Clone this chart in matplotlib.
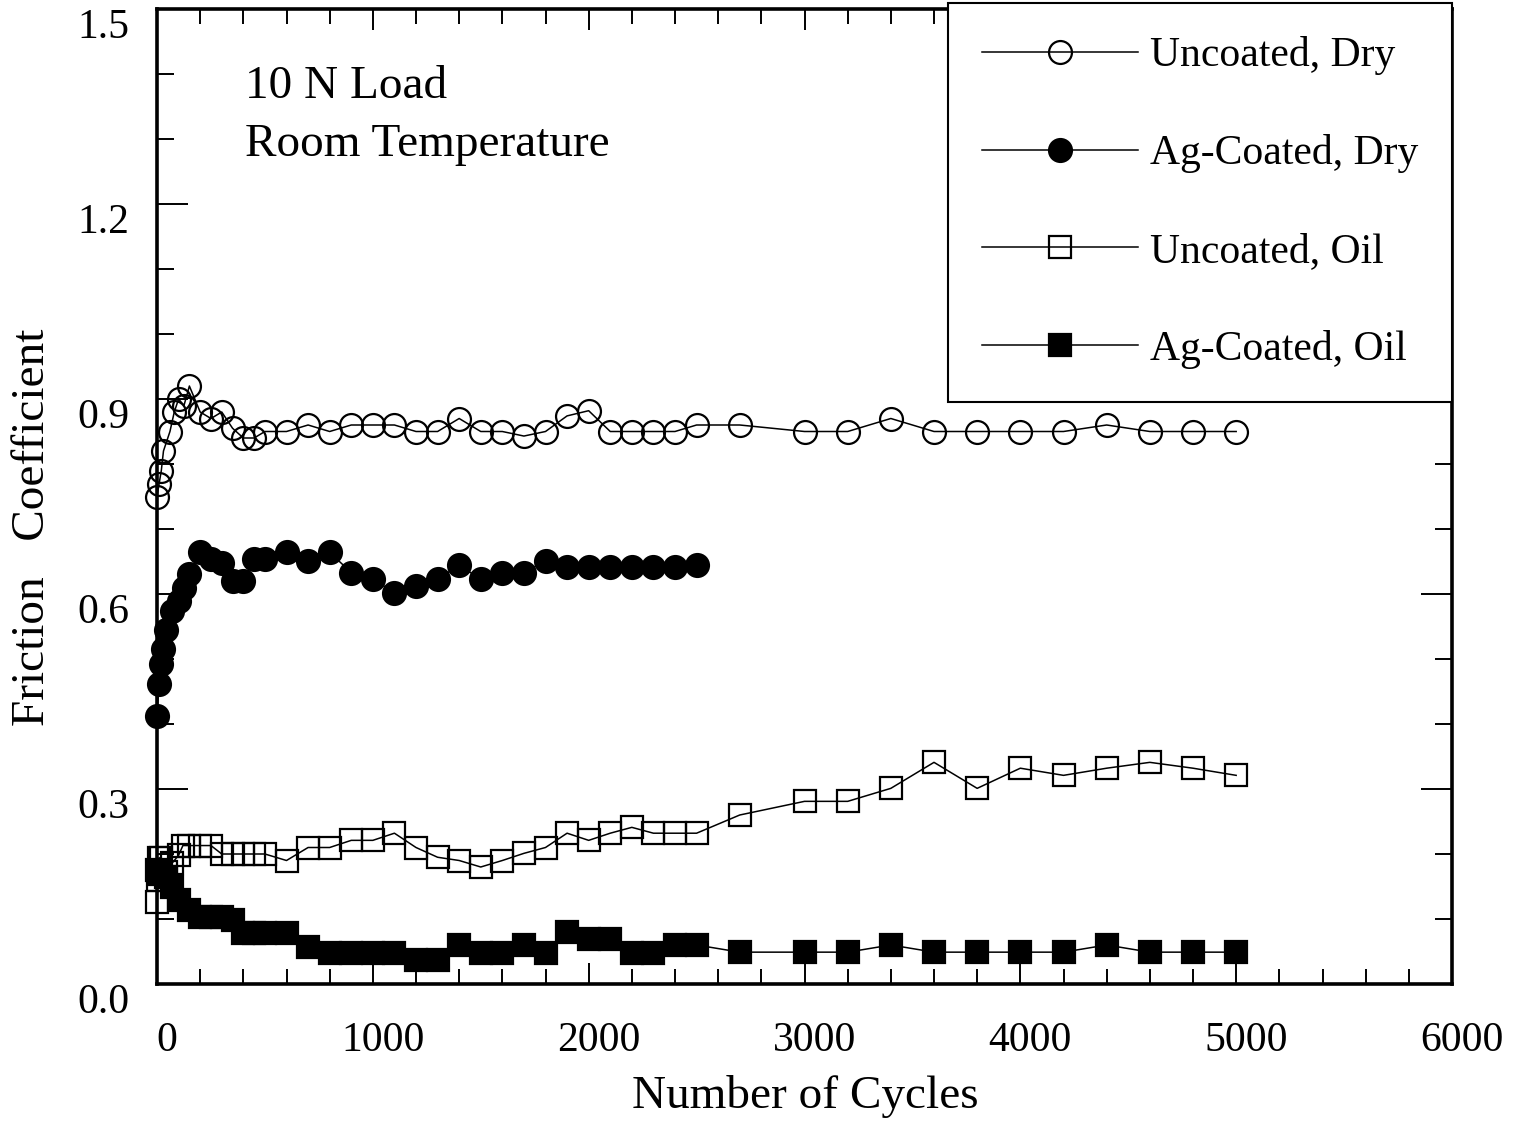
import matplotlib
matplotlib.use("Agg")
import matplotlib.pyplot as plt
import matplotlib.transforms as mtransforms
from matplotlib.ticker import MultipleLocator

plt.rcParams['font.family'] = ['Liberation Serif', 'DejaVu Serif']

# ---------------- data ----------------
ud_x = [0, 10, 20, 30, 60, 80, 100, 125, 150, 200, 250, 300, 350, 400, 450, 500,
        600, 700, 800, 900, 1000, 1100, 1200, 1300, 1400, 1500, 1600, 1700, 1800, 1900,
        2000, 2100, 2200, 2300, 2400, 2500, 2700, 3000, 3200, 3400, 3600, 3800, 4000,
        4200, 4400, 4600, 4800, 5000]
ud_y = [0.75, 0.77, 0.79, 0.82, 0.85, 0.88, 0.90, 0.89, 0.92, 0.88, 0.87, 0.88, 0.855, 0.84, 0.84, 0.85,
        0.85, 0.86, 0.85, 0.86, 0.86, 0.86, 0.85, 0.85, 0.87, 0.85, 0.85, 0.843, 0.85, 0.874,
        0.882, 0.85, 0.85, 0.85, 0.85, 0.86, 0.86, 0.85, 0.85, 0.87, 0.85, 0.85, 0.85,
        0.85, 0.86, 0.85, 0.85, 0.85]

ad_x = [0, 10, 20, 30, 40, 70, 100, 125, 150, 200, 250, 300, 350, 400, 450, 500,
        600, 700, 800, 900, 1000, 1100, 1200, 1300, 1400, 1500, 1600, 1700, 1800, 1900,
        2000, 2100, 2200, 2300, 2400, 2500]
ad_y = [0.413, 0.462, 0.493, 0.516, 0.544, 0.574, 0.59, 0.61, 0.631, 0.664, 0.654, 0.647, 0.62, 0.62, 0.654, 0.654,
        0.664, 0.651, 0.664, 0.633, 0.623, 0.602, 0.613, 0.623, 0.644, 0.623, 0.633, 0.633, 0.651, 0.641,
        0.641, 0.641, 0.641, 0.641, 0.641, 0.644]

uo_x = [0, 5, 10, 20, 40, 70, 100, 120, 150, 200, 250, 300, 350, 400, 450, 500,
        600, 700, 800, 900, 1000, 1100, 1200, 1300, 1400, 1500, 1600, 1700, 1800, 1900,
        2000, 2100, 2200, 2300, 2400, 2500, 2700, 3000, 3200, 3400, 3600, 3800, 4000,
        4200, 4400, 4600, 4800, 5000]
uo_y = [0.126, 0.16, 0.194, 0.194, 0.172, 0.186, 0.198, 0.213, 0.213, 0.213, 0.213, 0.2, 0.2, 0.2, 0.2, 0.2,
        0.19, 0.21, 0.21, 0.221, 0.221, 0.232, 0.21, 0.195, 0.19, 0.18, 0.19, 0.201, 0.21, 0.232,
        0.221, 0.232, 0.241, 0.232, 0.232, 0.232, 0.26, 0.281, 0.281, 0.301, 0.341, 0.301, 0.332,
        0.321, 0.332, 0.341, 0.332, 0.321]

ao_x = [0, 10, 40, 70, 100, 150, 200, 250, 300, 350, 400, 450, 500,
        600, 700, 800, 900, 1000, 1100, 1200, 1300, 1400, 1500, 1600, 1700, 1800, 1900,
        2000, 2100, 2200, 2300, 2400, 2500, 2700, 3000, 3200, 3400, 3600, 3800, 4000,
        4200, 4400, 4600, 4800, 5000]
ao_y = [0.175, 0.17, 0.164, 0.149, 0.129, 0.114, 0.103, 0.103, 0.103, 0.098, 0.078, 0.078, 0.078,
        0.078, 0.057, 0.048, 0.048, 0.048, 0.048, 0.037, 0.037, 0.06, 0.048, 0.048, 0.06, 0.048, 0.08,
        0.07, 0.07, 0.048, 0.048, 0.06, 0.06, 0.049, 0.049, 0.049, 0.06, 0.049, 0.049, 0.049,
        0.049, 0.06, 0.049, 0.049, 0.049]

labels = ["Uncoated, Dry", "Ag-Coated, Dry", "Uncoated, Oil", "Ag-Coated, Oil"]
x_ticks = [0, 1000, 2000, 3000, 4000, 5000, 6000]
y_ticks = [0.0, 0.3, 0.6, 0.9, 1.2, 1.5]

# ---------------- figure ----------------
W, H, DPI = 1516, 1122, 100
fig = plt.figure(figsize=(W / DPI, H / DPI), dpi=DPI)
ax = fig.add_axes([157 / W, 1 - 984 / H, (1452 - 157) / W, (984 - 9) / H])

FS = 30      # tick labels and legend
FS_BIG = 34  # axis titles and annotation
lw = 1.1
mew = 1.6
ax.plot(ud_x, ud_y, '-', color='black', lw=lw, marker='o', ms=16.5, mfc='none', mec='black', mew=mew,
        label=labels[0], clip_on=False)
ax.plot(ad_x, ad_y, '-', color='black', lw=lw, marker='o', ms=16.5, mfc='black', mec='black', mew=mew,
        label=labels[1], clip_on=False)
ax.plot(uo_x, uo_y, '-', color='black', lw=lw, marker='s', ms=15.5, mfc='none', mec='black', mew=mew,
        label=labels[2], clip_on=False)
ax.plot(ao_x, ao_y, '-', color='black', lw=lw, marker='s', ms=15.5, mfc='black', mec='black', mew=mew,
        label=labels[3], clip_on=False)

ax.set_xlim(0, 6000)
ax.set_ylim(0, 1.5)
ax.set_xticks(x_ticks)
ax.set_yticks(y_ticks)
ax.set_xticklabels([str(v) for v in x_ticks])
ax.set_yticklabels([f"{v:.1f}" for v in y_ticks])
ax.xaxis.set_minor_locator(MultipleLocator(200))
ax.yaxis.set_minor_locator(MultipleLocator(0.1))

ax.tick_params(axis='both', which='both', direction='in', top=True, right=True, width=1.4, labelsize=FS)
ax.tick_params(axis='x', which='major', length=15, pad=27)
ax.tick_params(axis='x', which='minor', length=11)
ax.tick_params(axis='y', which='major', length=22, pad=20)
ax.tick_params(axis='y', which='minor', length=12)

for sp in ax.spines.values():
    sp.set_linewidth(2.6)

# label offsets like the original
offx = mtransforms.ScaledTranslation(10 / DPI, 0, fig.dpi_scale_trans)
for lab in ax.get_xticklabels():
    lab.set_transform(lab.get_transform() + offx)
offy = mtransforms.ScaledTranslation(0, -14 / DPI, fig.dpi_scale_trans)
for lab in ax.get_yticklabels():
    lab.set_transform(lab.get_transform() + offy)

fig.text(805 / W, 1 - 1097 / H, "Number of Cycles", fontsize=FS_BIG, ha='center', va='center')
fig.text(33 / W, 1 - 527 / H, "Friction   Coefficient", fontsize=FS_BIG, ha='center', va='center',
         rotation=90)

ax.text(245 / W, 1 - 87 / H, "10 N Load", fontsize=FS_BIG, ha='left', va='center', transform=fig.transFigure)
ax.text(245 / W, 1 - 145 / H, "Room Temperature", fontsize=FS_BIG, ha='left', va='center',
        transform=fig.transFigure)

leg = ax.legend(loc='upper right', bbox_to_anchor=(1.0, 1.006), borderaxespad=0, fontsize=FS,
                frameon=True, fancybox=False, edgecolor='black', framealpha=1,
                handlelength=3.75, handletextpad=0.3, borderpad=0.8, labelspacing=1.415)
leg.get_frame().set_linewidth(1.5)

fig.savefig("out.png", dpi=DPI)
